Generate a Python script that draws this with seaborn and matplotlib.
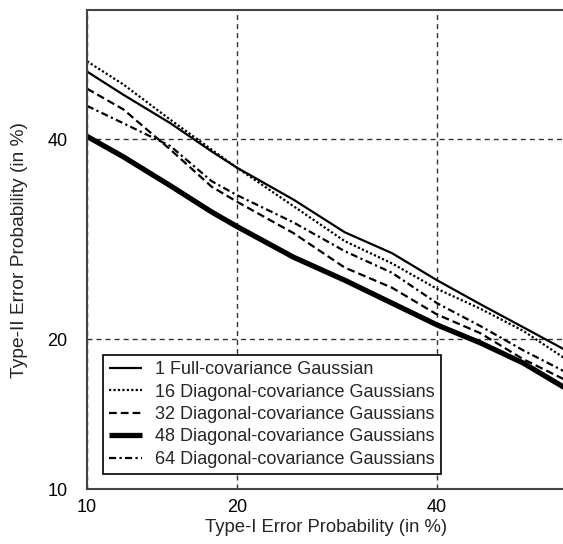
import math
from statistics import NormalDist

import matplotlib
matplotlib.use("Agg")
import matplotlib.pyplot as plt
import numpy as np
import pandas as pd
import seaborn as sns

# Type-I error (x) and Type-II error (y) rates, in percent
type1 = [10, 12, 15, 18, 20, 25, 30, 35, 40, 45, 50, 55]
full_cov_1 = [47.8, 45.1, 41.8, 38.6, 36.8, 33.3, 29.9, 27.8, 25.2, 23.0, 21.0, 19.1]
diag_16 = [49.0, 46.3, 42.2, 38.8, 36.8, 32.6, 29.0, 26.8, 24.4, 22.6, 20.7, 18.4]
diag_32 = [45.8, 43.4, 38.8, 34.7, 33.1, 29.8, 26.4, 24.5, 22.1, 20.5, 18.4, 16.8]
diag_48 = [40.3, 38.0, 34.8, 32.0, 30.5, 27.4, 25.2, 23.1, 21.2, 19.7, 18.1, 16.2]
diag_64 = [43.8, 41.8, 39.2, 35.3, 33.8, 30.9, 28.0, 25.9, 23.1, 21.1, 19.1, 17.4]

labels = [
    "1 Full-covariance Gaussian",
    "16 Diagonal-covariance Gaussians",
    "32 Diagonal-covariance Gaussians",
    "48 Diagonal-covariance Gaussians",
    "64 Diagonal-covariance Gaussians",
]
tick_values = [10, 20, 40]

# Normal-deviate (probit) axis transform, as used for DET curves
_nd = NormalDist()
_inv = np.vectorize(_nd.inv_cdf, otypes=[float])
_erf = np.vectorize(math.erf, otypes=[float])


def to_probit(p):
    p = np.clip(np.asarray(p, dtype=float) / 100.0, 1e-9, 1 - 1e-9)
    return _inv(p)


def from_probit(z):
    z = np.asarray(z, dtype=float)
    return 100.0 * 0.5 * (1.0 + _erf(z / math.sqrt(2.0)))


sns.set_style("white")
plt.rcParams["font.family"] = ["Liberation Sans", "DejaVu Sans"]

fig = plt.figure(figsize=(5.63, 5.44), dpi=100)
ax = fig.add_axes([87 / 563, 55 / 544, 479 / 563, 479 / 544])

ax.set_xscale("function", functions=(to_probit, from_probit))
ax.set_yscale("function", functions=(to_probit, from_probit))

df = pd.DataFrame({"type1": type1})
series = [full_cov_1, diag_16, diag_32, diag_48, diag_64]
styles = [
    dict(lw=1.6, linestyle="-"),
    dict(lw=1.6, linestyle=(0, (1.0, 1.0))),
    dict(lw=1.6, linestyle=(0, (3.5, 1.8))),
    dict(lw=3.8, linestyle="-"),
    dict(lw=1.6, linestyle=(0, (3.2, 1.5, 1.0, 1.5))),
]
for vals, lab, st in zip(series, labels, styles):
    df[lab] = vals
    sns.lineplot(data=df, x="type1", y=lab, ax=ax, color="black",
                 label=lab, sort=False, solid_capstyle="butt",
                 dash_capstyle="butt", **st)

ax.set_xlim(10, 55)
ax.set_ylim(10, 55)
ax.set_xticks(tick_values)
ax.set_yticks(tick_values)
ax.set_xticklabels([str(v) for v in tick_values])
ax.set_yticklabels([str(v) for v in tick_values])
ax.xaxis.set_minor_locator(matplotlib.ticker.NullLocator())
ax.yaxis.set_minor_locator(matplotlib.ticker.NullLocator())
ax.tick_params(axis="both", length=0, labelsize=13, colors="black")
ax.tick_params(axis="x", pad=7)
ax.tick_params(axis="y", pad=14)

ax.grid(True, color="#333333", linewidth=1.0, linestyle=(0, (3.6, 2.9)))

for side in ["left", "top", "bottom", "right"]:
    ax.spines[side].set_color("#444444")
    ax.spines[side].set_linewidth(1.5)

ax.set_xlabel("Type-I Error Probability (in %)", fontsize=13.3, labelpad=2)
ax.set_ylabel("Type-II Error Probability (in %)", fontsize=13.8, labelpad=14)

leg = ax.legend(loc="lower left", bbox_to_anchor=(0.033, 0.031),
                borderaxespad=0, fontsize=13, frameon=True, fancybox=False,
                framealpha=1, edgecolor="black", handlelength=1.8,
                handletextpad=0.75, labelspacing=0.3, borderpad=0.35)
leg.get_frame().set_linewidth(1.2)

fig.savefig("out.png", dpi=100)
